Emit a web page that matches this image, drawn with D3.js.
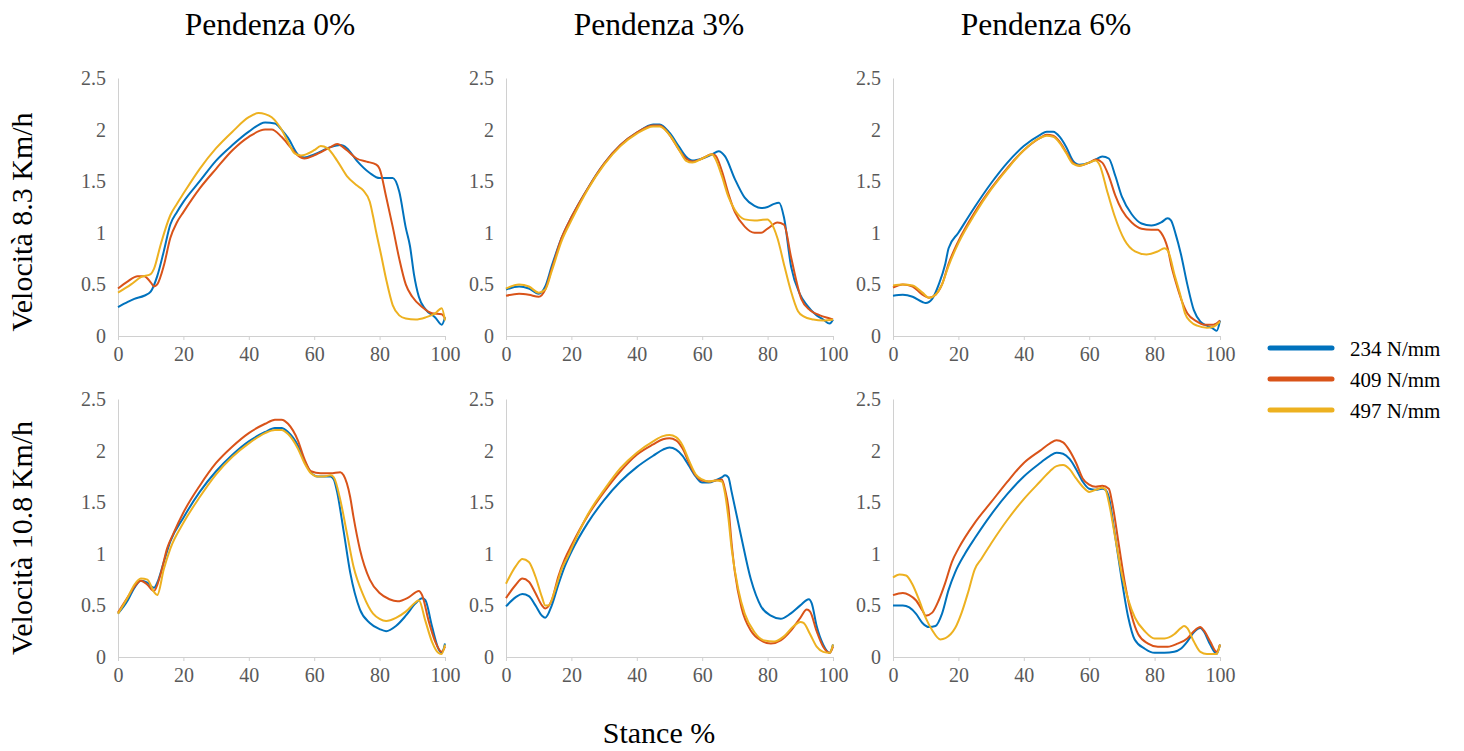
<!DOCTYPE html>
<html lang="it">
<head>
<meta charset="utf-8">
<title>Stance</title>
<script src="https://cdn.jsdelivr.net/npm/d3@7"></script>
<style>
  html, body { margin: 0; background: #fff; }
  body { font-family: "Liberation Serif", "Times New Roman", serif; }
</style>
</head>
<body>
<script>
// column / row / legend labels
const slopes = ["Pendenza 0%", "Pendenza 3%", "Pendenza 6%"];
const speeds = ["Velocità 8.3 Km/h", "Velocità 10.8 Km/h"];
const springs = ["234 N/mm", "409 N/mm", "497 N/mm"];
const xTicks = [0, 20, 40, 60, 80, 100];
const yTicks = [0, 0.5, 1, 1.5, 2, 2.5];

// [stance %, value]
// Velocità 8.3, Pendenza 0%
const v83p0_234 = [[0,0.28],[3,0.33],[5,0.36],[8,0.39],[10,0.43],[12,0.58],[14,0.82],[16,1.08],[18,1.2],[20,1.3],[25,1.5],[30,1.7],[35,1.85],[40,1.98],[45,2.07],[48,2.06],[50,2.0],[52,1.92],[55,1.76],[57,1.73],[60,1.76],[65,1.83],[68,1.85],[70,1.82],[73,1.7],[77,1.58],[80,1.53],[84,1.53],[86,1.4],[88,1.05],[89.3,0.87],[90.5,0.6],[92,0.38],[94,0.26],[97,0.18],[99,0.11],[100,0.18]];
const v83p0_409 = [[0,0.46],[3,0.53],[6,0.58],[8,0.58],[10,0.52],[11,0.48],[12,0.5],[14,0.68],[16,0.95],[18,1.1],[20,1.2],[25,1.43],[30,1.62],[35,1.8],[40,1.93],[45,2.0],[47,2.0],[50,1.93],[53,1.82],[55,1.75],[57,1.72],[60,1.75],[65,1.83],[67,1.86],[70,1.8],[73,1.72],[76,1.69],[79,1.66],[80,1.62],[82,1.35],[84,1.06],[86,0.75],[88,0.5],[90,0.38],[93,0.28],[96,0.22],[99,0.21],[100,0.17]];
const v83p0_497 = [[0,0.42],[4,0.5],[7,0.57],[10,0.6],[11,0.65],[13,0.88],[16,1.17],[18,1.28],[20,1.38],[25,1.62],[30,1.82],[35,1.98],[40,2.12],[43,2.16],[45,2.15],[47,2.12],[50,2.0],[52,1.88],[54,1.77],[56,1.75],[60,1.8],[62,1.84],[64,1.82],[67,1.7],[70,1.55],[73,1.46],[75,1.41],[77,1.3],[78,1.16],[79,1.0],[80.5,0.78],[82,0.55],[84,0.3],[86,0.2],[88,0.17],[91,0.16],[94,0.18],[97,0.22],[99,0.27],[100,0.15]];

// Velocità 8.3, Pendenza 3%
const v83p3_234 = [[0,0.45],[4,0.48],[7,0.46],[10,0.41],[12,0.48],[14,0.68],[17,0.95],[20,1.15],[25,1.43],[30,1.67],[35,1.85],[40,1.97],[45,2.05],[47,2.05],[50,1.97],[53,1.83],[55,1.74],[57,1.7],[60,1.72],[63,1.76],[65,1.79],[67,1.74],[70,1.52],[73,1.34],[76,1.26],[78,1.24],[80,1.25],[82,1.28],[83.5,1.29],[85,1.15],[87.2,0.67],[89.8,0.41],[92,0.3],[95,0.2],[97,0.16],[99,0.12],[100,0.16]];
const v83p3_409 = [[0,0.39],[4,0.41],[7,0.4],[10,0.38],[12,0.45],[14,0.65],[17,0.95],[20,1.15],[25,1.43],[30,1.67],[35,1.85],[40,1.97],[45,2.04],[47,2.04],[50,1.95],[53,1.8],[55,1.72],[57,1.69],[60,1.72],[63,1.76],[64,1.75],[66,1.6],[68,1.38],[70,1.2],[73,1.06],[76,1.0],[78,1.0],[80,1.04],[83,1.1],[85,1.08],[87.2,0.76],[90.3,0.36],[93,0.25],[96,0.2],[99,0.17],[100,0.16]];
const v83p3_497 = [[0,0.46],[4,0.5],[7,0.48],[10,0.42],[12,0.45],[14,0.63],[17,0.92],[20,1.12],[25,1.42],[30,1.66],[35,1.84],[40,1.96],[45,2.03],[47,2.03],[50,1.95],[53,1.8],[55,1.7],[57,1.68],[60,1.72],[63,1.76],[64,1.72],[66,1.55],[68,1.35],[70,1.22],[73,1.13],[76,1.12],[80,1.13],[81,1.1],[83,0.95],[85.2,0.67],[87,0.45],[89.3,0.24],[91,0.19],[94,0.16],[97,0.15],[100,0.16]];

// Velocità 8.3, Pendenza 6%
const v83p6_234 = [[0,0.39],[3,0.4],[6,0.38],[9,0.33],[10,0.32],[12,0.36],[14,0.5],[16,0.7],[17,0.85],[20,1.0],[25,1.25],[30,1.48],[35,1.68],[40,1.84],[45,1.95],[47,1.98],[49,1.98],[51,1.93],[53,1.83],[55,1.7],[57,1.66],[60,1.68],[62,1.71],[64,1.74],[66,1.72],[68,1.55],[70,1.35],[73,1.18],[76,1.09],[79,1.07],[82,1.1],[84,1.14],[85,1.12],[86.5,0.98],[88,0.8],[90,0.5],[92,0.25],[94,0.14],[96,0.1],[98,0.07],[99,0.05],[100,0.15]];
const v83p6_409 = [[0,0.47],[3,0.5],[6,0.48],[9,0.4],[11,0.37],[13,0.4],[15,0.5],[17,0.7],[20,0.92],[25,1.2],[30,1.43],[35,1.63],[40,1.8],[45,1.92],[47,1.95],[49,1.94],[51,1.88],[53,1.78],[55,1.68],[57,1.65],[60,1.68],[62,1.71],[64,1.68],[66,1.55],[68,1.36],[70,1.22],[73,1.1],[76,1.04],[79,1.03],[81,1.03],[82,1.0],[84,0.85],[85.2,0.67],[86.5,0.52],[88.2,0.35],[90,0.22],[93,0.14],[95,0.11],[98,0.11],[100,0.15]];
const v83p6_497 = [[0,0.49],[3,0.5],[6,0.49],[9,0.42],[11,0.37],[13,0.4],[15,0.5],[17,0.68],[20,0.9],[25,1.18],[30,1.42],[35,1.62],[40,1.8],[45,1.92],[47,1.94],[49,1.93],[51,1.87],[53,1.77],[55,1.67],[57,1.65],[60,1.68],[62,1.7],[63,1.67],[65.7,1.38],[67.8,1.16],[70.8,0.93],[74,0.82],[77.5,0.79],[81,0.82],[83,0.85],[84,0.83],[86.2,0.58],[88,0.38],[89.3,0.22],[91,0.14],[93,0.1],[96,0.08],[98,0.09],[100,0.14]];

// Velocità 10.8, Pendenza 0%
const v108p0_234 = [[0,0.42],[3,0.55],[5,0.67],[7,0.74],[9,0.72],[11,0.67],[12,0.72],[14,0.92],[16,1.12],[20,1.35],[25,1.6],[30,1.8],[35,1.96],[40,2.09],[45,2.18],[48,2.22],[50,2.22],[52,2.18],[55,2.05],[57,1.9],[59,1.79],[61,1.75],[63,1.75],[65,1.75],[66,1.72],[67,1.6],[69,1.22],[71,0.82],[74,0.46],[77,0.33],[80,0.27],[82,0.25],[85,0.3],[88,0.4],[91,0.52],[93,0.57],[94,0.55],[96,0.3],[98,0.08],[99,0.04],[100,0.13]];
const v108p0_409 = [[0,0.43],[3,0.58],[5,0.68],[7,0.74],[9,0.7],[11,0.64],[13,0.8],[15,1.05],[17,1.2],[20,1.4],[25,1.66],[30,1.88],[35,2.04],[40,2.17],[45,2.26],[48,2.3],[50,2.3],[52,2.26],[55,2.1],[57,1.92],[59,1.8],[62,1.78],[65,1.78],[68,1.79],[69,1.76],[71,1.55],[72,1.36],[74,1.04],[77,0.75],[80,0.62],[83,0.56],[85.5,0.54],[89,0.58],[92,0.64],[93,0.6],[95,0.35],[97,0.15],[99,0.05],[100,0.1]];
const v108p0_497 = [[0,0.42],[3,0.58],[5,0.7],[7,0.76],[9,0.75],[11,0.63],[12,0.6],[14,0.85],[16,1.05],[20,1.3],[25,1.55],[30,1.77],[35,1.94],[40,2.07],[45,2.17],[48,2.2],[50,2.2],[52,2.16],[55,2.02],[57,1.88],[59,1.78],[61,1.75],[63,1.75],[65,1.76],[66,1.74],[68,1.52],[70,1.2],[72,0.88],[75,0.6],[78,0.42],[80,0.37],[82,0.35],[85,0.38],[88,0.44],[91,0.53],[92,0.55],[94,0.35],[96,0.15],[98,0.04],[99,0.03],[100,0.12]];

// Velocità 10.8, Pendenza 3%
const v108p3_234 = [[0,0.49],[3,0.58],[5,0.61],[7,0.59],[9,0.5],[11,0.4],[12,0.38],[14,0.5],[16,0.7],[18,0.88],[20,1.02],[25,1.3],[30,1.52],[35,1.7],[40,1.84],[45,1.95],[48,2.01],[50,2.03],[52,2.01],[54,1.95],[56,1.85],[58,1.75],[60,1.69],[62,1.69],[64,1.71],[66,1.74],[67,1.76],[68,1.74],[69,1.6],[71.9,1.17],[74.9,0.75],[78,0.49],[81,0.4],[84,0.37],[87,0.42],[90,0.5],[92.6,0.56],[93.5,0.52],[95,0.3],[97,0.12],[99,0.04],[100,0.12]];
const v108p3_409 = [[0,0.57],[3,0.7],[5,0.76],[7,0.73],[9,0.62],[11,0.5],[12,0.47],[14,0.55],[16,0.78],[18,0.95],[20,1.08],[25,1.37],[30,1.6],[35,1.8],[40,1.96],[45,2.06],[48,2.11],[50,2.12],[52,2.1],[54,2.02],[56,1.88],[58,1.76],[60,1.71],[62,1.7],[64,1.71],[66,1.72],[67,1.62],[68,1.45],[69,1.1],[70,0.82],[72,0.48],[75,0.25],[78,0.16],[81,0.13],[84,0.16],[87,0.25],[90,0.38],[92,0.46],[93,0.44],[95,0.25],[97,0.1],[99,0.04],[100,0.1]];
const v108p3_497 = [[0,0.71],[3,0.88],[5,0.95],[7,0.92],[9,0.78],[11,0.58],[12,0.5],[13,0.5],[15,0.65],[17,0.85],[19,0.98],[20,1.05],[25,1.38],[30,1.62],[35,1.83],[40,1.98],[45,2.09],[48,2.14],[50,2.15],[52,2.13],[54,2.05],[56,1.9],[58,1.77],[60,1.72],[62,1.7],[64,1.71],[66,1.7],[67,1.58],[68,1.35],[69,1.05],[71,0.66],[73,0.42],[76,0.24],[79,0.16],[82,0.15],[85,0.2],[88,0.3],[90,0.34],[91,0.33],[93,0.22],[95,0.1],[97,0.05],[99,0.04],[100,0.12]];

// Velocità 10.8, Pendenza 6%
const v108p6_234 = [[0,0.5],[3,0.5],[5,0.48],[7,0.42],[9,0.33],[11,0.29],[13,0.3],[15,0.42],[17,0.65],[19,0.82],[22,1.0],[25,1.15],[30,1.38],[35,1.58],[40,1.75],[45,1.88],[48,1.95],[50,1.98],[52,1.97],[54,1.92],[56,1.82],[58,1.7],[60,1.63],[62,1.62],[64,1.63],[65,1.62],[66,1.55],[67.8,1.2],[69.8,0.78],[71.9,0.39],[73.9,0.17],[77,0.08],[80,0.04],[83,0.04],[86,0.05],[88,0.08],[90,0.15],[92,0.24],[94,0.28],[95,0.25],[97,0.12],[99,0.03],[100,0.12]];
const v108p6_409 = [[0,0.6],[3,0.62],[5,0.6],[7,0.55],[9,0.45],[10,0.4],[12,0.43],[14,0.55],[16,0.72],[18,0.92],[20,1.05],[25,1.3],[30,1.5],[35,1.7],[40,1.88],[45,2.0],[48,2.07],[50,2.1],[52,2.08],[54,2.0],[56,1.88],[58,1.73],[60,1.67],[62,1.65],[64,1.66],[66,1.63],[67,1.5],[69,1.1],[71,0.7],[73,0.4],[75,0.22],[78,0.13],[81,0.1],[84,0.1],[87,0.13],[90,0.18],[92,0.25],[94,0.29],[95,0.26],[97,0.15],[99,0.05],[100,0.12]];
const v108p6_497 = [[0,0.77],[2,0.8],[4,0.79],[6,0.7],[8,0.55],[10,0.38],[12,0.26],[14.5,0.17],[17.6,0.22],[19,0.28],[21,0.43],[23,0.63],[25,0.85],[27,0.95],[30,1.1],[35,1.33],[40,1.53],[45,1.7],[48,1.8],[50,1.85],[52,1.86],[54,1.82],[56,1.73],[58,1.65],[60,1.6],[62,1.62],[64,1.64],[65,1.62],[66,1.5],[68,1.15],[70,0.8],[72,0.55],[74,0.38],[77,0.25],[80,0.18],[83,0.18],[86,0.22],[88,0.28],[89,0.3],[90,0.28],[92,0.15],[94,0.05],[96,0.03],[98,0.03],[99,0.03],[100,0.12]];

const panels = [
  [v83p0_234, v83p0_409, v83p0_497],
  [v83p3_234, v83p3_409, v83p3_497],
  [v83p6_234, v83p6_409, v83p6_497],
  [v108p0_234, v108p0_409, v108p0_497],
  [v108p3_234, v108p3_409, v108p3_497],
  [v108p6_234, v108p6_409, v108p6_497]
];

const colors = ["#0072BD", "#D95319", "#EDB120"];

const w = 1464, h = 751;
const colLeft = [118, 506, 893];
const rowTop = [78, 399];
const pw = 327, ph = 258;

const svg = d3.select("body").append("svg")
  .attr("width", w).attr("height", h);

const x = d3.scaleLinear().domain([0, 100]).range([0, pw]);
const y = d3.scaleLinear().domain([0, 2.5]).range([ph, 0]);

const line = d3.line()
  .x(d => x(d[0]))
  .y(d => y(d[1]))
  .curve(d3.curveMonotoneX);

panels.forEach((series, i) => {
  const col = i % 3, row = Math.floor(i / 3);
  const g = svg.append("g")
    .attr("transform", `translate(${colLeft[col]},${rowTop[row]})`);

  // axes
  const xa = g.append("g")
    .attr("transform", `translate(0,${ph})`)
    .call(d3.axisBottom(x).tickValues(xTicks).tickSize(4).tickSizeOuter(0).tickPadding(7));
  const ya = g.append("g")
    .call(d3.axisLeft(y).tickValues(yTicks).tickSize(0).tickPadding(12).tickFormat(d3.format("")));

  [xa, ya].forEach(a => {
    a.selectAll(".domain").attr("stroke", "#d0d0d0");
    a.selectAll(".tick line").attr("stroke", "#d0d0d0");
    a.selectAll(".tick text")
      .attr("fill", "#595959")
      .style("font-family", '"Liberation Serif", "Times New Roman", serif')
      .style("font-size", "20px");
  });

  series.forEach((s, k) => {
    g.append("path")
      .datum(s)
      .attr("fill", "none")
      .attr("stroke", colors[k])
      .attr("stroke-width", 2)
      .attr("d", line);
  });
});

// column titles
const titleX = [270, 659, 1046];
svg.selectAll(".ctitle")
  .data(slopes)
  .enter().append("text")
  .attr("x", (d, i) => titleX[i])
  .attr("y", 35)
  .attr("text-anchor", "middle")
  .style("font-size", "31.5px")
  .text(d => d);

// row titles
const rowMid = [222, 538];
svg.selectAll(".rtitle")
  .data(speeds)
  .enter().append("text")
  .attr("transform", (d, i) => `translate(32,${rowMid[i]}) rotate(-90)`)
  .attr("text-anchor", "middle")
  .style("font-size", "30px")
  .text(d => d);

svg.append("text")
  .attr("x", 659).attr("y", 743)
  .attr("text-anchor", "middle")
  .style("font-size", "30px")
  .text("Stance %");

// legend
const legY = [348, 379, 410];
const leg = svg.selectAll(".leg")
  .data(springs)
  .enter().append("g")
  .attr("transform", (d, i) => `translate(1268,${legY[i]})`);
leg.append("line")
  .attr("x1", 2).attr("x2", 64)
  .attr("stroke", (d, i) => colors[i])
  .attr("stroke-width", 5)
  .attr("stroke-linecap", "round");
leg.append("text")
  .attr("x", 82).attr("y", 8)
  .style("font-size", "21px")
  .text(d => d);
</script>
</body>
</html>
